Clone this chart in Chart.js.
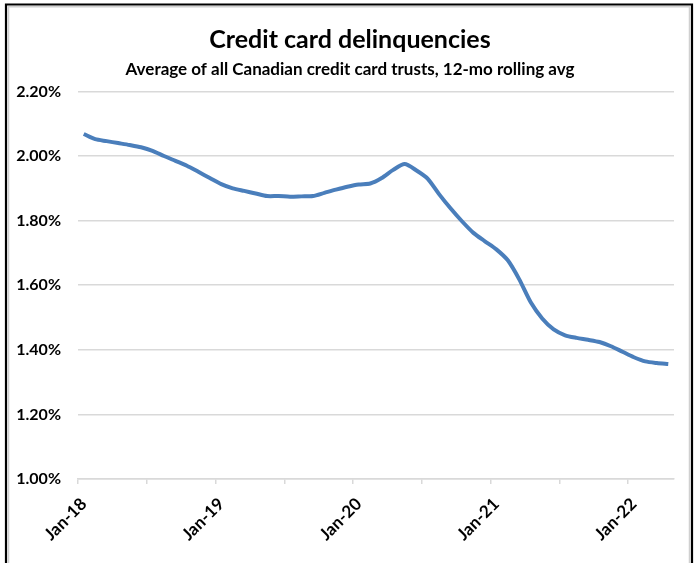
<!DOCTYPE html>
<html>
<head>
<meta charset="utf-8">
<script src="https://cdn.jsdelivr.net/npm/chart.js@4.4.0/dist/chart.umd.min.js"></script>
<style>
  html, body { margin: 0; padding: 0; background: #ffffff; }
  #wrap { position: relative; width: 700px; height: 563px; }
  canvas { display: block; }
</style>
</head>
<body>
<div id="wrap"><canvas id="c" width="700" height="563"></canvas></div>
<script>
// ---- Data ----
const categories = [
  "Jan-18","Feb-18","Mar-18","Apr-18","May-18","Jun-18","Jul-18","Aug-18","Sep-18","Oct-18","Nov-18","Dec-18",
  "Jan-19","Feb-19","Mar-19","Apr-19","May-19","Jun-19","Jul-19","Aug-19","Sep-19","Oct-19","Nov-19","Dec-19",
  "Jan-20","Feb-20","Mar-20","Apr-20","May-20","Jun-20","Jul-20","Aug-20","Sep-20","Oct-20","Nov-20","Dec-20",
  "Jan-21","Feb-21","Mar-21","Apr-21","May-21","Jun-21","Jul-21","Aug-21","Sep-21","Oct-21","Nov-21","Dec-21",
  "Jan-22","Feb-22","Mar-22","Apr-22"
];
const delinquencyRate = [
  2.068, 2.052, 2.046, 2.040, 2.034, 2.027, 2.016, 2.000, 1.985, 1.970, 1.951, 1.932,
  1.913, 1.900, 1.892, 1.884, 1.876, 1.876, 1.874, 1.875, 1.876, 1.886, 1.896, 1.905,
  1.912, 1.915, 1.932, 1.957, 1.975, 1.956, 1.930, 1.882, 1.838, 1.798, 1.762, 1.736,
  1.711, 1.677, 1.618, 1.547, 1.497, 1.463, 1.445, 1.437, 1.431, 1.424, 1.411, 1.394,
  1.377, 1.364, 1.359, 1.356
];
const shownLabels = ["Jan-18", "Jan-19", "Jan-20", "Jan-21", "Jan-22"];
const yTicks = { min: 1.00, max: 2.20, step: 0.20 };
const titleText = "Credit card delinquencies";
const subtitleText = "Average of all Canadian credit card trusts, 12-mo rolling avg";

const FONT = "Lato, 'Open Sans', 'Liberation Sans', sans-serif";
const GRID = "#d9d9d9";

const frame = {
  id: 'frame',
  afterDraw(chart) {
    const ctx = chart.ctx;
    ctx.save();
    ctx.strokeStyle = "#d0d0d0";
    ctx.lineWidth = 1.5;
    ctx.beginPath();
    ctx.moveTo(8.5, 563); ctx.lineTo(8.5, 6.8); ctx.lineTo(689.5, 6.8); ctx.lineTo(689.5, 563);
    ctx.stroke();
    ctx.strokeStyle = "#000000";
    ctx.lineWidth = 2.2;
    ctx.beginPath();
    ctx.moveTo(6, 563); ctx.lineTo(6, 4.5); ctx.lineTo(692, 4.5); ctx.lineTo(692, 563);
    ctx.stroke();
    ctx.restore();
  }
};

new Chart(document.getElementById('c'), {
  type: 'line',
  data: {
    labels: categories,
    datasets: [{
      data: delinquencyRate,
      borderColor: "#4a7ebb",
      borderWidth: 4,
      pointRadius: 0,
      tension: 0.25,
      fill: false
    }]
  },
  options: {
    responsive: false,
    animation: false,
    devicePixelRatio: 1,
    layout: { padding: { left: 0, right: 0, top: 0, bottom: 0 } },
    plugins: {
      legend: { display: false },
      tooltip: { enabled: false },
      title: {
        display: true,
        text: titleText,
        color: "#000000",
        font: { family: FONT, size: 25, weight: 'bold', lineHeight: 1.2 },
        padding: { top: 25, bottom: 3 }
      },
      subtitle: {
        display: true,
        text: subtitleText,
        color: "#000000",
        font: { family: FONT, size: 17, weight: 'bold', lineHeight: 1.2 },
        padding: { top: 1, bottom: 12 }
      }
    },
    scales: {
      x: {
        type: 'category',
        offset: true,
        grid: {
          display: true,
          offset: true,
          drawOnChartArea: false,
          drawTicks: true,
          tickLength: 5,
          lineWidth: 1.5,
          color: (ctx) => (ctx.index % 6 === 0 ? GRID : 'rgba(0,0,0,0)')
        },
        border: { display: true, color: GRID, width: 1.5 },
        ticks: {
          autoSkip: false,
          maxRotation: 45,
          minRotation: 45,
          padding: 10,
          color: "#000000",
          font: { family: FONT, size: 17, weight: 'bold' },
          callback: function (value, index) {
            const lab = categories[index];
            return shownLabels.includes(lab) ? lab : '';
          }
        },
        afterFit: (scale) => { scale.height = 84; }
      },
      y: {
        min: yTicks.min,
        max: yTicks.max,
        grid: { color: GRID, lineWidth: 1.5, drawTicks: false },
        border: { display: false },
        ticks: {
          stepSize: yTicks.step,
          padding: 17,
          color: "#000000",
          font: { family: FONT, size: 16, weight: 'bold' },
          callback: (v) => v.toFixed(2) + '%'
        },
        afterFit: (scale) => { scale.width = 78; }
      },
      yRight: {
        position: 'right',
        min: yTicks.min,
        max: yTicks.max,
        grid: { display: false, drawOnChartArea: false },
        border: { display: false },
        ticks: { display: false },
        afterFit: (scale) => { scale.width = 26; }
      }
    }
  },
  plugins: [frame]
});
</script>
</body>
</html>
